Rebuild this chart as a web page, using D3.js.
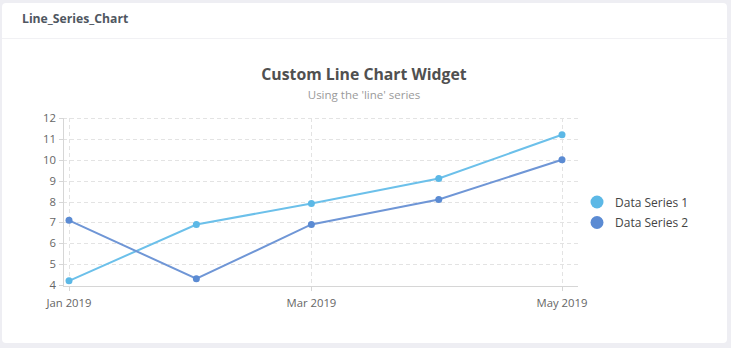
<!DOCTYPE html>
<html>
<head>
<meta charset="utf-8">
<script src="https://cdn.jsdelivr.net/npm/d3@7"></script>
<style>
  html, body { margin: 0; padding: 0; background: #eeeef3; width: 731px; height: 348px; overflow: hidden; }
  svg { display: block; font-family: "Open Sans", "Noto Sans", sans-serif; }
</style>
</head>
<body>
<svg id="chart" width="731" height="348"></svg>
<script>
const months = ["2019-01-01", "2019-02-01", "2019-03-01", "2019-04-01", "2019-05-01"];
const series1 = [4.2, 6.9, 7.9, 9.1, 11.2];
const series2 = [7.1, 4.3, 6.9, 8.1, 10.0];
const seriesNames = ["Data Series 1", "Data Series 2"];
const yTicks = [4, 5, 6, 7, 8, 9, 10, 11, 12];
const xTickDates = ["2019-01-01", "2019-03-01", "2019-05-01"];
const xTickLabels = ["Jan 2019", "Mar 2019", "May 2019"];

const parse = d3.timeParse("%Y-%m-%d");
const dates = months.map(parse);
const colors = ["#5cb8e6", "#5b8bd3"];
const lineColors = ["#6cc0ea", "#6f96d6"];

const svg = d3.select("#chart");

// card
svg.append("rect").attr("x", 2).attr("y", 3).attr("width", 725).attr("height", 340)
  .attr("rx", 4).attr("fill", "#ffffff");
svg.append("line").attr("x1", 2).attr("x2", 727).attr("y1", 38.5).attr("y2", 38.5)
  .attr("stroke", "#f1f1f4").attr("stroke-width", 1);
svg.append("text").attr("x", 22).attr("y", 23).text("Line_Series_Chart")
  .attr("font-size", 12.2).attr("font-weight", "bold").attr("fill", "#505761");

// titles
svg.append("text").attr("x", 364).attr("y", 80).attr("text-anchor", "middle")
  .text("Custom Line Chart Widget").attr("font-size", 15.8).attr("font-weight", "bold").attr("fill", "#505050");
svg.append("text").attr("x", 364).attr("y", 99).attr("text-anchor", "middle")
  .text("Using the 'line' series").attr("font-size", 11.5).attr("fill", "#9a9a9a");

// scales
const plotLeft = 63, plotRight = 578, plotTop = 118, plotBottom = 286;
const x = d3.scaleTime().domain([dates[0], dates[dates.length - 1]]).range([69, 562]);
const y = d3.scaleLinear().domain([4, 12]).range([285, 118]);

const g = svg.append("g");

// horizontal grid
g.selectAll(".hgrid").data(yTicks.filter(t => t > 4)).enter().append("line")
  .attr("x1", plotLeft).attr("x2", plotRight)
  .attr("y1", d => Math.round(y(d)) + 0.5).attr("y2", d => Math.round(y(d)) + 0.5)
  .attr("stroke", "#e3e3e3").attr("stroke-dasharray", "4,3");

// vertical grid
const xTicks = xTickDates.map(parse);
g.selectAll(".vgrid").data(xTicks).enter().append("line")
  .attr("x1", d => Math.round(x(d)) + 0.5).attr("x2", d => Math.round(x(d)) + 0.5)
  .attr("y1", plotTop).attr("y2", plotBottom)
  .attr("stroke", "#e3e3e3").attr("stroke-dasharray", "4,3");

// axes lines
g.append("line").attr("x1", plotLeft + 0.5).attr("x2", plotLeft + 0.5).attr("y1", plotTop).attr("y2", plotBottom)
  .attr("stroke", "#d6d6d6");
g.append("line").attr("x1", plotLeft).attr("x2", plotRight).attr("y1", plotBottom + 0.5).attr("y2", plotBottom + 0.5)
  .attr("stroke", "#d6d6d6");

// y ticks
g.selectAll(".ytick").data(yTicks).enter().append("line")
  .attr("x1", plotLeft - 4).attr("x2", plotLeft)
  .attr("y1", d => Math.round(y(d)) + 0.5).attr("y2", d => Math.round(y(d)) + 0.5)
  .attr("stroke", "#d6d6d6");
g.selectAll(".ylab").data(yTicks).enter().append("text")
  .attr("x", 56).attr("y", d => y(d) + 4).attr("text-anchor", "end")
  .attr("font-size", 11.3).attr("fill", "#666").text(d => d);

// x ticks
g.selectAll(".xtick").data(xTicks).enter().append("line")
  .attr("x1", d => Math.round(x(d)) + 0.5).attr("x2", d => Math.round(x(d)) + 0.5)
  .attr("y1", plotBottom).attr("y2", plotBottom + 5)
  .attr("stroke", "#d6d6d6");
g.selectAll(".xlab").data(xTicks).enter().append("text")
  .attr("x", d => x(d)).attr("y", 307).attr("text-anchor", "middle")
  .attr("font-size", 11.3).attr("fill", "#666").text((d, i) => xTickLabels[i]);

// lines
const allSeries = [series1, series2];
const line = d3.line().x((d, i) => x(dates[i])).y(d => y(d));
allSeries.forEach((s, si) => {
  g.append("path").datum(s).attr("d", line).attr("fill", "none")
    .attr("stroke", lineColors[si]).attr("stroke-width", 2);
});
allSeries.forEach((s, si) => {
  g.selectAll(".pt" + si).data(s).enter().append("circle")
    .attr("cx", (d, i) => x(dates[i])).attr("cy", d => y(d)).attr("r", 3.5)
    .attr("fill", colors[si]);
});

// legend
const legend = svg.append("g");
seriesNames.forEach((name, i) => {
  legend.append("circle").attr("cx", 597).attr("cy", 202 + i * 20.5).attr("r", 6.5).attr("fill", colors[i]);
  legend.append("text").attr("x", 615).attr("y", 206.5 + i * 20.5).attr("font-size", 12)
    .attr("fill", "#444").text(name);
});
</script>
</body>
</html>
